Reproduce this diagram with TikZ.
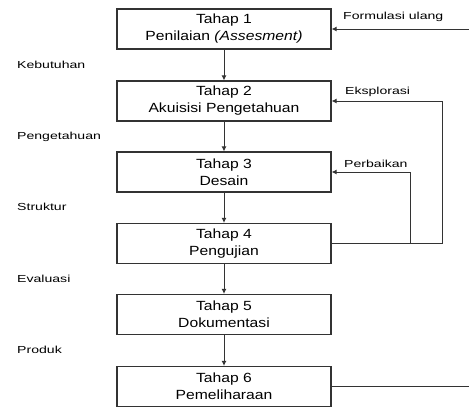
\documentclass[tikz,border=0pt]{standalone}
\usepackage{fontspec}
\setmainfont{Liberation Sans}
\newfontfamily\boxfont[FakeStretch=1.18]{Liberation Sans}
\newfontfamily\lblfont[FakeStretch=1.38]{Liberation Sans}
\usetikzlibrary{arrows.meta}
\begin{document}
\begin{tikzpicture}[x=1pt,y=-1pt,
  stage/.style={draw=black!80,line width=1.2pt,minimum width=214pt,minimum height=40pt,
    inner sep=0pt,align=center,font=\boxfont\fontsize{13.3}{17}\selectfont},
  lbl/.style={anchor=west,inner sep=0pt,font=\lblfont\fontsize{10.2}{12}\selectfont},
  conn/.style={draw=black!80,line width=1pt},
  arr/.style={conn,-{Latex[length=5pt,width=5pt]}}]
\useasboundingbox (0,0) rectangle (469,407);
\node[stage] (s1) at (224,29) {Tahap 1\\Penilaian \textit{(Assesment)}};
\node[stage] (s2) at (224,101) {Tahap 2\\Akuisisi Pengetahuan};
\node[stage] (s3) at (224,172) {Tahap 3\\Desain};
\node[stage] (s4) at (224,243.5) {Tahap 4\\Pengujian};
\node[stage] (s5) at (224,314.5) {Tahap 5\\Dokumentasi};
\node[stage] (s6) at (224,386.5) {Tahap 6\\Pemeliharaan};
\foreach \a/\b in {s1/s2,s2/s3,s3/s4,s4/s5,s5/s6}
  \draw[arr] (\a) -- (\b);
\node[lbl] (k) at (17,65) {Kebutuhan};
\node[lbl] (p) at (17,137) {Pengetahuan};
\node[lbl] (st) at (17,207) {Struktur};
\node[lbl] (ev) at (17,279) {Evaluasi};
\node[lbl] (pr) at (17,350) {Produk};
\node[lbl] (fu) at (343,17) {Formulasi ulang};
\node[lbl] (ek) at (345,92) {Eksplorasi};
\node[lbl] (pb) at (344,164) {Perbaikan};
\coordinate (r1) at (469,29);
\coordinate (r6) at (469,386.5);
\coordinate (ex) at (442,243.5);
\coordinate (px) at (410,243.5);
\draw[arr] (r1) -- (s1.east);
\draw[conn] (s6.east) -- (r6);
\draw[conn] (s4.east) -- (ex);
\draw[arr] (ex) |- (s2.east);
\draw[arr] (px) |- (s3.east);
\end{tikzpicture}
\end{document}
